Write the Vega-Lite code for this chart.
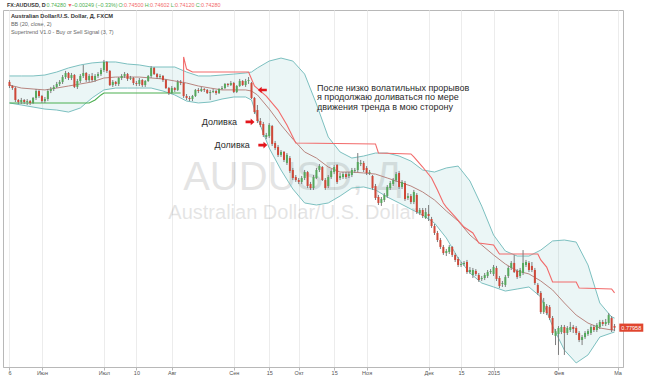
{
  "$schema": "https://vega.github.io/schema/vega-lite/v6.json",
  "width": 620,
  "height": 357,
  "autosize": {"type": "none"},
  "padding": {"left": 3, "top": 10, "right": 27, "bottom": 9},
  "background": "#ffffff",
  "config": {
    "view": {"stroke": "#b8b8b8", "strokeWidth": 1},
    "font": "Liberation Sans",
    "text": {"font": "Liberation Sans", "baseline": "middle", "align": "left"}
  },
  "datasets": {
    "candles": [
      {"i":0,"o":0.9361,"h":0.9373,"l":0.9322,"c":0.9335},
      {"i":1,"o":0.9335,"h":0.9341,"l":0.9310,"c":0.9322},
      {"i":2,"o":0.9322,"h":0.9329,"l":0.9233,"c":0.9246},
      {"i":3,"o":0.9246,"h":0.9252,"l":0.9220,"c":0.9233},
      {"i":4,"o":0.9233,"h":0.9259,"l":0.9220,"c":0.9246},
      {"i":5,"o":0.9246,"h":0.9252,"l":0.9220,"c":0.9233},
      {"i":6,"o":0.9233,"h":0.9252,"l":0.9214,"c":0.9239},
      {"i":7,"o":0.9239,"h":0.9246,"l":0.9214,"c":0.9227},
      {"i":8,"o":0.9227,"h":0.9265,"l":0.9220,"c":0.9259},
      {"i":9,"o":0.9259,"h":0.9316,"l":0.9246,"c":0.9303},
      {"i":10,"o":0.9303,"h":0.9310,"l":0.9259,"c":0.9271},
      {"i":11,"o":0.9271,"h":0.9278,"l":0.9227,"c":0.9239},
      {"i":12,"o":0.9239,"h":0.9265,"l":0.9227,"c":0.9252},
      {"i":13,"o":0.9252,"h":0.9316,"l":0.9239,"c":0.9303},
      {"i":14,"o":0.9303,"h":0.9329,"l":0.9290,"c":0.9316},
      {"i":15,"o":0.9316,"h":0.9341,"l":0.9303,"c":0.9329},
      {"i":16,"o":0.9329,"h":0.9361,"l":0.9322,"c":0.9348},
      {"i":17,"o":0.9348,"h":0.9373,"l":0.9335,"c":0.9361},
      {"i":18,"o":0.9361,"h":0.9405,"l":0.9348,"c":0.9392},
      {"i":19,"o":0.9392,"h":0.9431,"l":0.9380,"c":0.9418},
      {"i":20,"o":0.9418,"h":0.9424,"l":0.9373,"c":0.9386},
      {"i":21,"o":0.9386,"h":0.9418,"l":0.9373,"c":0.9405},
      {"i":22,"o":0.9405,"h":0.9411,"l":0.9322,"c":0.9329},
      {"i":23,"o":0.9329,"h":0.9380,"l":0.9316,"c":0.9367},
      {"i":24,"o":0.9367,"h":0.9411,"l":0.9354,"c":0.9399},
      {"i":25,"o":0.9399,"h":0.9469,"l":0.9386,"c":0.9418},
      {"i":26,"o":0.9418,"h":0.9424,"l":0.9361,"c":0.9373},
      {"i":27,"o":0.9373,"h":0.9411,"l":0.9361,"c":0.9399},
      {"i":28,"o":0.9399,"h":0.9418,"l":0.9361,"c":0.9373},
      {"i":29,"o":0.9373,"h":0.9411,"l":0.9361,"c":0.9399},
      {"i":30,"o":0.9399,"h":0.9424,"l":0.9386,"c":0.9411},
      {"i":31,"o":0.9411,"h":0.9450,"l":0.9399,"c":0.9437},
      {"i":32,"o":0.9437,"h":0.9501,"l":0.9424,"c":0.9488},
      {"i":33,"o":0.9488,"h":0.9494,"l":0.9418,"c":0.9431},
      {"i":34,"o":0.9431,"h":0.9437,"l":0.9335,"c":0.9341},
      {"i":35,"o":0.9341,"h":0.9373,"l":0.9329,"c":0.9361},
      {"i":36,"o":0.9361,"h":0.9367,"l":0.9335,"c":0.9348},
      {"i":37,"o":0.9348,"h":0.9392,"l":0.9335,"c":0.9386},
      {"i":38,"o":0.9386,"h":0.9411,"l":0.9373,"c":0.9399},
      {"i":39,"o":0.9399,"h":0.9424,"l":0.9386,"c":0.9411},
      {"i":40,"o":0.9411,"h":0.9418,"l":0.9367,"c":0.9380},
      {"i":41,"o":0.9380,"h":0.9399,"l":0.9373,"c":0.9386},
      {"i":42,"o":0.9386,"h":0.9392,"l":0.9341,"c":0.9354},
      {"i":43,"o":0.9354,"h":0.9367,"l":0.9335,"c":0.9348},
      {"i":44,"o":0.9348,"h":0.9386,"l":0.9335,"c":0.9373},
      {"i":45,"o":0.9373,"h":0.9380,"l":0.9329,"c":0.9341},
      {"i":46,"o":0.9341,"h":0.9373,"l":0.9329,"c":0.9367},
      {"i":47,"o":0.9367,"h":0.9405,"l":0.9361,"c":0.9399},
      {"i":48,"o":0.9399,"h":0.9462,"l":0.9386,"c":0.9450},
      {"i":49,"o":0.9450,"h":0.9456,"l":0.9405,"c":0.9411},
      {"i":50,"o":0.9411,"h":0.9418,"l":0.9380,"c":0.9392},
      {"i":51,"o":0.9392,"h":0.9411,"l":0.9380,"c":0.9399},
      {"i":52,"o":0.9399,"h":0.9405,"l":0.9361,"c":0.9373},
      {"i":53,"o":0.9373,"h":0.9380,"l":0.9316,"c":0.9322},
      {"i":54,"o":0.9322,"h":0.9329,"l":0.9278,"c":0.9290},
      {"i":55,"o":0.9290,"h":0.9335,"l":0.9284,"c":0.9322},
      {"i":56,"o":0.9322,"h":0.9329,"l":0.9297,"c":0.9310},
      {"i":57,"o":0.9310,"h":0.9373,"l":0.9303,"c":0.9361},
      {"i":58,"o":0.9361,"h":0.9373,"l":0.9341,"c":0.9354},
      {"i":59,"o":0.9354,"h":0.9361,"l":0.9259,"c":0.9271},
      {"i":60,"o":0.9271,"h":0.9284,"l":0.9246,"c":0.9259},
      {"i":61,"o":0.9259,"h":0.9271,"l":0.9239,"c":0.9252},
      {"i":62,"o":0.9252,"h":0.9278,"l":0.9239,"c":0.9271},
      {"i":63,"o":0.9271,"h":0.9316,"l":0.9265,"c":0.9310},
      {"i":64,"o":0.9310,"h":0.9322,"l":0.9290,"c":0.9303},
      {"i":65,"o":0.9303,"h":0.9329,"l":0.9297,"c":0.9316},
      {"i":66,"o":0.9316,"h":0.9322,"l":0.9297,"c":0.9310},
      {"i":67,"o":0.9310,"h":0.9316,"l":0.9284,"c":0.9290},
      {"i":68,"o":0.9290,"h":0.9310,"l":0.9246,"c":0.9297},
      {"i":69,"o":0.9297,"h":0.9316,"l":0.9290,"c":0.9303},
      {"i":70,"o":0.9303,"h":0.9310,"l":0.9278,"c":0.9290},
      {"i":71,"o":0.9290,"h":0.9322,"l":0.9284,"c":0.9316},
      {"i":72,"o":0.9316,"h":0.9335,"l":0.9310,"c":0.9322},
      {"i":73,"o":0.9322,"h":0.9354,"l":0.9316,"c":0.9348},
      {"i":74,"o":0.9348,"h":0.9354,"l":0.9329,"c":0.9341},
      {"i":75,"o":0.9341,"h":0.9367,"l":0.9335,"c":0.9354},
      {"i":76,"o":0.9354,"h":0.9361,"l":0.9290,"c":0.9297},
      {"i":77,"o":0.9297,"h":0.9341,"l":0.9290,"c":0.9335},
      {"i":78,"o":0.9335,"h":0.9380,"l":0.9329,"c":0.9367},
      {"i":79,"o":0.9367,"h":0.9373,"l":0.9335,"c":0.9341},
      {"i":80,"o":0.9341,"h":0.9380,"l":0.9329,"c":0.9367},
      {"i":81,"o":0.9367,"h":0.9392,"l":0.9348,"c":0.9373},
      {"i":82,"o":0.9354,"h":0.9361,"l":0.9252,"c":0.9259},
      {"i":83,"o":0.9259,"h":0.9265,"l":0.9157,"c":0.9169},
      {"i":84,"o":0.9182,"h":0.9214,"l":0.9099,"c":0.9112},
      {"i":85,"o":0.9112,"h":0.9131,"l":0.9074,"c":0.9087},
      {"i":86,"o":0.9093,"h":0.9106,"l":0.9010,"c":0.9023},
      {"i":87,"o":0.9010,"h":0.9036,"l":0.8997,"c":0.9023},
      {"i":88,"o":0.9016,"h":0.9099,"l":0.9004,"c":0.9087},
      {"i":89,"o":0.9080,"h":0.9087,"l":0.8953,"c":0.8966},
      {"i":90,"o":0.8972,"h":0.8985,"l":0.8927,"c":0.8940},
      {"i":91,"o":0.8946,"h":0.8959,"l":0.8883,"c":0.8896},
      {"i":92,"o":0.8896,"h":0.8927,"l":0.8883,"c":0.8915},
      {"i":93,"o":0.8915,"h":0.8921,"l":0.8851,"c":0.8864},
      {"i":94,"o":0.8845,"h":0.8908,"l":0.8832,"c":0.8896},
      {"i":95,"o":0.8876,"h":0.8889,"l":0.8781,"c":0.8794},
      {"i":96,"o":0.8800,"h":0.8813,"l":0.8736,"c":0.8749},
      {"i":97,"o":0.8755,"h":0.8768,"l":0.8724,"c":0.8736},
      {"i":98,"o":0.8736,"h":0.8749,"l":0.8711,"c":0.8724},
      {"i":99,"o":0.8724,"h":0.8762,"l":0.8711,"c":0.8749},
      {"i":100,"o":0.8749,"h":0.8800,"l":0.8736,"c":0.8787},
      {"i":101,"o":0.8787,"h":0.8794,"l":0.8685,"c":0.8698},
      {"i":102,"o":0.8711,"h":0.8724,"l":0.8673,"c":0.8685},
      {"i":103,"o":0.8685,"h":0.8768,"l":0.8673,"c":0.8755},
      {"i":104,"o":0.8749,"h":0.8813,"l":0.8743,"c":0.8800},
      {"i":105,"o":0.8800,"h":0.8838,"l":0.8787,"c":0.8825},
      {"i":106,"o":0.8819,"h":0.8825,"l":0.8730,"c":0.8736},
      {"i":107,"o":0.8736,"h":0.8749,"l":0.8673,"c":0.8685},
      {"i":108,"o":0.8698,"h":0.8768,"l":0.8685,"c":0.8755},
      {"i":109,"o":0.8755,"h":0.8806,"l":0.8743,"c":0.8794},
      {"i":110,"o":0.8787,"h":0.8832,"l":0.8774,"c":0.8819},
      {"i":111,"o":0.8832,"h":0.8838,"l":0.8711,"c":0.8724},
      {"i":112,"o":0.8749,"h":0.8781,"l":0.8736,"c":0.8762},
      {"i":113,"o":0.8755,"h":0.8787,"l":0.8743,"c":0.8774},
      {"i":114,"o":0.8774,"h":0.8787,"l":0.8743,"c":0.8755},
      {"i":115,"o":0.8762,"h":0.8787,"l":0.8749,"c":0.8774},
      {"i":116,"o":0.8768,"h":0.8813,"l":0.8755,"c":0.8800},
      {"i":117,"o":0.8794,"h":0.8813,"l":0.8781,"c":0.8800},
      {"i":118,"o":0.8800,"h":0.8908,"l":0.8787,"c":0.8851},
      {"i":119,"o":0.8838,"h":0.8864,"l":0.8825,"c":0.8845},
      {"i":120,"o":0.8845,"h":0.8857,"l":0.8787,"c":0.8800},
      {"i":121,"o":0.8813,"h":0.8825,"l":0.8768,"c":0.8781},
      {"i":122,"o":0.8781,"h":0.8800,"l":0.8768,"c":0.8787},
      {"i":123,"o":0.8762,"h":0.8768,"l":0.8673,"c":0.8685},
      {"i":124,"o":0.8698,"h":0.8711,"l":0.8609,"c":0.8622},
      {"i":125,"o":0.8628,"h":0.8641,"l":0.8577,"c":0.8590},
      {"i":126,"o":0.8590,"h":0.8628,"l":0.8571,"c":0.8615},
      {"i":127,"o":0.8609,"h":0.8653,"l":0.8596,"c":0.8641},
      {"i":128,"o":0.8634,"h":0.8704,"l":0.8622,"c":0.8692},
      {"i":129,"o":0.8685,"h":0.8730,"l":0.8673,"c":0.8717},
      {"i":130,"o":0.8711,"h":0.8749,"l":0.8698,"c":0.8736},
      {"i":131,"o":0.8736,"h":0.8787,"l":0.8724,"c":0.8774},
      {"i":132,"o":0.8781,"h":0.8794,"l":0.8679,"c":0.8692},
      {"i":133,"o":0.8692,"h":0.8736,"l":0.8679,"c":0.8724},
      {"i":134,"o":0.8717,"h":0.8730,"l":0.8603,"c":0.8615},
      {"i":135,"o":0.8622,"h":0.8653,"l":0.8609,"c":0.8634},
      {"i":136,"o":0.8634,"h":0.8647,"l":0.8583,"c":0.8596},
      {"i":137,"o":0.8596,"h":0.8673,"l":0.8583,"c":0.8660},
      {"i":138,"o":0.8641,"h":0.8653,"l":0.8520,"c":0.8532},
      {"i":139,"o":0.8526,"h":0.8558,"l":0.8513,"c":0.8545},
      {"i":140,"o":0.8545,"h":0.8558,"l":0.8494,"c":0.8507},
      {"i":141,"o":0.8494,"h":0.8558,"l":0.8488,"c":0.8532},
      {"i":142,"o":0.8520,"h":0.8577,"l":0.8475,"c":0.8507},
      {"i":143,"o":0.8488,"h":0.8501,"l":0.8431,"c":0.8443},
      {"i":144,"o":0.8443,"h":0.8456,"l":0.8386,"c":0.8399},
      {"i":145,"o":0.8399,"h":0.8412,"l":0.8341,"c":0.8354},
      {"i":146,"o":0.8354,"h":0.8367,"l":0.8297,"c":0.8310},
      {"i":147,"o":0.8310,"h":0.8322,"l":0.8259,"c":0.8271},
      {"i":148,"o":0.8271,"h":0.8297,"l":0.8252,"c":0.8284},
      {"i":149,"o":0.8278,"h":0.8322,"l":0.8265,"c":0.8310},
      {"i":150,"o":0.8310,"h":0.8316,"l":0.8246,"c":0.8259},
      {"i":151,"o":0.8259,"h":0.8271,"l":0.8214,"c":0.8227},
      {"i":152,"o":0.8233,"h":0.8246,"l":0.8182,"c":0.8195},
      {"i":153,"o":0.8195,"h":0.8214,"l":0.8182,"c":0.8201},
      {"i":154,"o":0.8201,"h":0.8220,"l":0.8189,"c":0.8208},
      {"i":155,"o":0.8214,"h":0.8227,"l":0.8138,"c":0.8150},
      {"i":156,"o":0.8150,"h":0.8182,"l":0.8138,"c":0.8163},
      {"i":157,"o":0.8131,"h":0.8176,"l":0.8112,"c":0.8163},
      {"i":158,"o":0.8157,"h":0.8169,"l":0.8125,"c":0.8138},
      {"i":159,"o":0.8131,"h":0.8144,"l":0.8087,"c":0.8099},
      {"i":160,"o":0.8106,"h":0.8125,"l":0.8093,"c":0.8112},
      {"i":161,"o":0.8112,"h":0.8144,"l":0.8099,"c":0.8131},
      {"i":162,"o":0.8125,"h":0.8163,"l":0.8112,"c":0.8150},
      {"i":163,"o":0.8150,"h":0.8169,"l":0.8138,"c":0.8157},
      {"i":164,"o":0.8138,"h":0.8195,"l":0.8125,"c":0.8182},
      {"i":165,"o":0.8176,"h":0.8189,"l":0.8093,"c":0.8106},
      {"i":166,"o":0.8112,"h":0.8125,"l":0.8048,"c":0.8061},
      {"i":167,"o":0.8074,"h":0.8093,"l":0.8055,"c":0.8080},
      {"i":168,"o":0.8068,"h":0.8131,"l":0.8055,"c":0.8118},
      {"i":169,"o":0.8125,"h":0.8189,"l":0.8112,"c":0.8176},
      {"i":170,"o":0.8176,"h":0.8220,"l":0.8163,"c":0.8208},
      {"i":171,"o":0.8208,"h":0.8259,"l":0.8144,"c":0.8150},
      {"i":172,"o":0.8157,"h":0.8169,"l":0.8106,"c":0.8118},
      {"i":173,"o":0.8125,"h":0.8176,"l":0.8112,"c":0.8163},
      {"i":174,"o":0.8144,"h":0.8290,"l":0.8131,"c":0.8208},
      {"i":175,"o":0.8195,"h":0.8227,"l":0.8182,"c":0.8214},
      {"i":176,"o":0.8208,"h":0.8220,"l":0.8150,"c":0.8163},
      {"i":177,"o":0.8189,"h":0.8214,"l":0.8150,"c":0.8163},
      {"i":178,"o":0.8163,"h":0.8176,"l":0.8068,"c":0.8080},
      {"i":179,"o":0.8068,"h":0.8080,"l":0.8004,"c":0.8017},
      {"i":180,"o":0.8017,"h":0.8029,"l":0.7883,"c":0.7895},
      {"i":181,"o":0.7895,"h":0.7985,"l":0.7883,"c":0.7959},
      {"i":182,"o":0.7934,"h":0.7946,"l":0.7876,"c":0.7889},
      {"i":183,"o":0.7927,"h":0.7940,"l":0.7845,"c":0.7857},
      {"i":184,"o":0.7857,"h":0.7870,"l":0.7749,"c":0.7762},
      {"i":185,"o":0.7743,"h":0.7787,"l":0.7685,"c":0.7774},
      {"i":186,"o":0.7755,"h":0.7806,"l":0.7622,"c":0.7794},
      {"i":187,"o":0.7768,"h":0.7813,"l":0.7755,"c":0.7800},
      {"i":188,"o":0.7800,"h":0.7813,"l":0.7622,"c":0.7762},
      {"i":189,"o":0.7762,"h":0.7806,"l":0.7749,"c":0.7794},
      {"i":190,"o":0.7781,"h":0.7832,"l":0.7768,"c":0.7800},
      {"i":191,"o":0.7800,"h":0.7813,"l":0.7762,"c":0.7787},
      {"i":192,"o":0.7794,"h":0.7806,"l":0.7749,"c":0.7762},
      {"i":193,"o":0.7762,"h":0.7774,"l":0.7704,"c":0.7717},
      {"i":194,"o":0.7717,"h":0.7749,"l":0.7685,"c":0.7736},
      {"i":195,"o":0.7736,"h":0.7774,"l":0.7724,"c":0.7762},
      {"i":196,"o":0.7755,"h":0.7787,"l":0.7743,"c":0.7774},
      {"i":197,"o":0.7762,"h":0.7813,"l":0.7749,"c":0.7800},
      {"i":198,"o":0.7800,"h":0.7813,"l":0.7768,"c":0.7781},
      {"i":199,"o":0.7781,"h":0.7825,"l":0.7768,"c":0.7813},
      {"i":200,"o":0.7800,"h":0.7845,"l":0.7787,"c":0.7832},
      {"i":201,"o":0.7832,"h":0.7845,"l":0.7806,"c":0.7819},
      {"i":202,"o":0.7819,"h":0.7851,"l":0.7806,"c":0.7832},
      {"i":203,"o":0.7825,"h":0.7889,"l":0.7813,"c":0.7876},
      {"i":204,"o":0.7857,"h":0.7870,"l":0.7768,"c":0.7781},
      {"i":205,"o":0.7806,"h":0.7819,"l":0.7774,"c":0.77958}
    ],
    "bands": [
      {"i":0,"up":0.9399,"mid":0.9341,"lo":0.9227},
      {"i":4,"up":0.9399,"mid":0.9322,"lo":0.9214},
      {"i":8,"up":0.9399,"mid":0.9316,"lo":0.9201},
      {"i":12,"up":0.9405,"mid":0.9310,"lo":0.9188},
      {"i":16,"up":0.9424,"mid":0.9322,"lo":0.9182},
      {"i":20,"up":0.9450,"mid":0.9335,"lo":0.9169},
      {"i":24,"up":0.9469,"mid":0.9348,"lo":0.9195},
      {"i":28,"up":0.9482,"mid":0.9361,"lo":0.9259},
      {"i":32,"up":0.9488,"mid":0.9386,"lo":0.9310},
      {"i":36,"up":0.9488,"mid":0.9392,"lo":0.9322},
      {"i":40,"up":0.9475,"mid":0.9392,"lo":0.9322},
      {"i":44,"up":0.9469,"mid":0.9392,"lo":0.9322},
      {"i":48,"up":0.9456,"mid":0.9386,"lo":0.9322},
      {"i":52,"up":0.9456,"mid":0.9380,"lo":0.9303},
      {"i":56,"up":0.9456,"mid":0.9367,"lo":0.9278},
      {"i":60,"up":0.9424,"mid":0.9354,"lo":0.9239},
      {"i":64,"up":0.9399,"mid":0.9335,"lo":0.9227},
      {"i":68,"up":0.9399,"mid":0.9322,"lo":0.9233},
      {"i":72,"up":0.9405,"mid":0.9310,"lo":0.9252},
      {"i":76,"up":0.9411,"mid":0.9310,"lo":0.9265},
      {"i":80,"up":0.9418,"mid":0.9310,"lo":0.9265},
      {"i":82,"up":0.9424,"mid":0.9303,"lo":0.9246},
      {"i":84,"up":0.9450,"mid":0.9278,"lo":0.9131},
      {"i":88,"up":0.9494,"mid":0.9189,"lo":0.8940},
      {"i":92,"up":0.9513,"mid":0.9087,"lo":0.8800},
      {"i":96,"up":0.9494,"mid":0.8997,"lo":0.8679},
      {"i":100,"up":0.9411,"mid":0.8915,"lo":0.8590},
      {"i":104,"up":0.9220,"mid":0.8876,"lo":0.8577},
      {"i":108,"up":0.9010,"mid":0.8819,"lo":0.8590},
      {"i":112,"up":0.8915,"mid":0.8787,"lo":0.8634},
      {"i":116,"up":0.8876,"mid":0.8787,"lo":0.8685},
      {"i":120,"up":0.8889,"mid":0.8781,"lo":0.8692},
      {"i":124,"up":0.8908,"mid":0.8774,"lo":0.8673},
      {"i":128,"up":0.8908,"mid":0.8749,"lo":0.8628},
      {"i":132,"up":0.8889,"mid":0.8724,"lo":0.8590},
      {"i":136,"up":0.8857,"mid":0.8698,"lo":0.8551},
      {"i":140,"up":0.8800,"mid":0.8660,"lo":0.8513},
      {"i":144,"up":0.8787,"mid":0.8609,"lo":0.8462},
      {"i":148,"up":0.8813,"mid":0.8539,"lo":0.8367},
      {"i":152,"up":0.8825,"mid":0.8475,"lo":0.8239},
      {"i":156,"up":0.8730,"mid":0.8386,"lo":0.8144},
      {"i":160,"up":0.8570,"mid":0.8322,"lo":0.8080},
      {"i":164,"up":0.8386,"mid":0.8259,"lo":0.8055},
      {"i":168,"up":0.8284,"mid":0.8201,"lo":0.8029},
      {"i":172,"up":0.8252,"mid":0.8157,"lo":0.8042},
      {"i":176,"up":0.8252,"mid":0.8138,"lo":0.8055},
      {"i":180,"up":0.8290,"mid":0.8093,"lo":0.7991},
      {"i":184,"up":0.8348,"mid":0.8036,"lo":0.7806},
      {"i":188,"up":0.8354,"mid":0.7953,"lo":0.7653},
      {"i":192,"up":0.8341,"mid":0.7876,"lo":0.7571},
      {"i":196,"up":0.8195,"mid":0.7825,"lo":0.7622},
      {"i":200,"up":0.7953,"mid":0.7794,"lo":0.7736},
      {"i":204,"up":0.7864,"mid":0.7781,"lo":0.7762},
      {"i":205,"up":0.7857,"mid":0.7781,"lo":0.7768}
    ],
    "supertrend": [
      {"k":0,"i":0,"v":0.9227,"trend":"up"},
      {"k":1,"i":27,"v":0.9227,"trend":"up"},
      {"k":2,"i":29,"v":0.9246,"trend":"up"},
      {"k":3,"i":31,"v":0.9278,"trend":"up"},
      {"k":4,"i":32,"v":0.9290,"trend":"up"},
      {"k":5,"i":58,"v":0.9290,"trend":"up"},
      {"k":10,"i":59,"v":0.9341,"trend":"down"},
      {"k":11,"i":59,"v":0.9520,"trend":"down"},
      {"k":12,"i":60,"v":0.9443,"trend":"down"},
      {"k":13,"i":62,"v":0.9424,"trend":"down"},
      {"k":14,"i":81,"v":0.9424,"trend":"down"},
      {"k":15,"i":83,"v":0.9335,"trend":"down"},
      {"k":16,"i":87,"v":0.9271,"trend":"down"},
      {"k":17,"i":91,"v":0.9182,"trend":"down"},
      {"k":18,"i":94,"v":0.9087,"trend":"down"},
      {"k":19,"i":96,"v":0.9010,"trend":"down"},
      {"k":20,"i":97,"v":0.8972,"trend":"down"},
      {"k":21,"i":124,"v":0.8966,"trend":"down"},
      {"k":22,"i":125,"v":0.8908,"trend":"down"},
      {"k":23,"i":136,"v":0.8902,"trend":"down"},
      {"k":24,"i":137,"v":0.8883,"trend":"down"},
      {"k":25,"i":140,"v":0.8819,"trend":"down"},
      {"k":26,"i":143,"v":0.8749,"trend":"down"},
      {"k":27,"i":145,"v":0.8673,"trend":"down"},
      {"k":28,"i":147,"v":0.8590,"trend":"down"},
      {"k":29,"i":148,"v":0.8564,"trend":"down"},
      {"k":30,"i":151,"v":0.8501,"trend":"down"},
      {"k":31,"i":154,"v":0.8437,"trend":"down"},
      {"k":32,"i":157,"v":0.8399,"trend":"down"},
      {"k":33,"i":159,"v":0.8335,"trend":"down"},
      {"k":34,"i":164,"v":0.8322,"trend":"down"},
      {"k":35,"i":166,"v":0.8265,"trend":"down"},
      {"k":36,"i":179,"v":0.8265,"trend":"down"},
      {"k":37,"i":180,"v":0.8227,"trend":"down"},
      {"k":38,"i":182,"v":0.8182,"trend":"down"},
      {"k":39,"i":184,"v":0.8087,"trend":"down"},
      {"k":40,"i":192,"v":0.8087,"trend":"down"},
      {"k":41,"i":193,"v":0.8048,"trend":"down"},
      {"k":42,"i":204,"v":0.8042,"trend":"down"},
      {"k":43,"i":205,"v":0.8017,"trend":"down"}
    ],
    "notes": [
      {"kind":"head-title","i":-0.83,"v":0.98541,"t":"FX:AUDUSD, D"},
      {"kind":"head","tone":"plain","i":12.57,"v":0.98541,"t":"0.74280"},
      {"kind":"head","tone":"signal","i":19.57,"v":0.98541,"t":"▼"},
      {"kind":"head","tone":"plain","i":21.0,"v":0.98541,"t":"−0.00249 (−0.33%)"},
      {"kind":"head","tone":"plain","i":36.9,"v":0.98541,"t":"O:"},
      {"kind":"head","tone":"signal","i":38.8,"v":0.98541,"t":"0.74500"},
      {"kind":"head","tone":"plain","i":45.8,"v":0.98541,"t":"H:"},
      {"kind":"head","tone":"signal","i":47.6,"v":0.98541,"t":"0.74602"},
      {"kind":"head","tone":"plain","i":54.6,"v":0.98541,"t":"L:"},
      {"kind":"head","tone":"signal","i":56.1,"v":0.98541,"t":"0.74120"},
      {"kind":"head","tone":"plain","i":63.1,"v":0.98541,"t":"C:"},
      {"kind":"head","tone":"signal","i":64.9,"v":0.98541,"t":"0.74280"},
      {"kind":"legend-title","i":0.5,"v":0.97840,"t":"Australian Dollar/U.S. Dollar, Д, FXCM"},
      {"kind":"legend","i":0.5,"v":0.97299,"t":"BB (20, close, 2)"},
      {"kind":"legend","i":0.5,"v":0.96790,"t":"Supertrend V1.0 - Buy or Sell Signal (3, 7)"},
      {"kind":"mark-big","i":95.8,"v":0.8749,"t":"AUDUSD, Д"},
      {"kind":"mark-small","i":96.0,"v":0.8526,"t":"Australian Dollar/U.S. Dollar"},
      {"kind":"comment","i":104.17,"v":0.93223,"t":"После низко волатильных прорывов"},
      {"kind":"comment","i":104.17,"v":0.92618,"t":"я продолжаю доливаться по мере"},
      {"kind":"comment","i":104.17,"v":0.92013,"t":"движения тренда в мою сторону"},
      {"kind":"comment","i":65.17,"v":0.9106,"t":"Доливка"},
      {"kind":"comment","i":69.5,"v":0.8959,"t":"Доливка"},
      {"kind":"arrow-right","i":81.5,"v":0.9106,"t":""},
      {"kind":"arrow-right","i":85.83,"v":0.8959,"t":""},
      {"kind":"arrow-left","i":85.67,"v":0.93095,"t":""},
      {"kind":"price","i":210.67,"v":0.77958,"t":"0.77958"}
    ]
  },
  "encoding": {
    "x": {
      "field": "i",
      "type": "quantitative",
      "scale": {"domain": [-0.5, 206.1667], "nice": false, "zero": false},
      "axis": {
        "title": null,
        "values": [0, 11, 32, 43, 55, 76, 88, 98, 110, 121, 142, 153, 164, 186, 206],
        "labelExpr": "['6','Июн','Июл','10','Авг','Сен','15','Окт','15','Ноя','Дек','15','2015','Фев','Ма'][indexof([0,11,32,43,55,76,88,98,110,121,142,153,164,186,206], datum.value)]",
        "grid": true,
        "gridColor": "#ececec",
        "tickSize": 3,
        "tickColor": "#b8b8b8",
        "domainColor": "#b8b8b8",
        "labelFontSize": 5.5,
        "labelColor": "#555555",
        "labelPadding": 0,
        "labelFlush": false,
        "labelOverlap": false,
        "labelFont": "Liberation Sans"
      }
    }
  },
  "layer": [
    {
      "data": {"name": "bands"},
      "mark": {"type": "area", "color": "#3aa6a6", "opacity": 0.1},
      "encoding": {
        "y": {
          "field": "lo", "type": "quantitative",
          "scale": {"domain": [0.754522, 0.981911], "nice": false, "zero": false},
          "axis": {
            "orient": "right",
            "title": null,
            "values": [0.76,0.77,0.78,0.79,0.8,0.81,0.82,0.83,0.84,0.85,0.86,0.87,0.88,0.89,0.9,0.91,0.92,0.93,0.94,0.95,0.96,0.97,0.98],
            "format": ".5f",
            "grid": true,
            "gridColor": "#ececec",
            "tickSize": 3,
            "tickColor": "#b8b8b8",
            "domainColor": "#b8b8b8",
            "labelFontSize": 5.5,
            "labelColor": "#555555",
            "labelPadding": 2,
            "labelFont": "Liberation Sans"
          }
        },
        "y2": {"field": "up"}
      }
    },
    {
      "mark": {"type": "rect", "color": "#f1f2f4"},
      "encoding": {
        "x": {"datum": -1.5},
        "x2": {"datum": 216},
        "y": {"datum": 0.98195, "type": "quantitative", "scale": {"domain": [0.754522, 0.981911], "nice": false, "zero": false}, "axis": null},
        "y2": {"datum": 0.9892}
      }
    },
    {
      "data": {"name": "notes"},
      "transform": [{"filter": "datum.kind === 'mark-big'"}],
      "mark": {"type": "text", "align": "center", "fontSize": 40, "color": "#000000", "opacity": 0.1},
      "encoding": {
        "y": {"field": "v", "type": "quantitative", "scale": {"domain": [0.754522, 0.981911], "nice": false, "zero": false}, "axis": null},
        "text": {"field": "t"}
      }
    },
    {
      "data": {"name": "notes"},
      "transform": [{"filter": "datum.kind === 'mark-small'"}],
      "mark": {"type": "text", "align": "center", "fontSize": 20, "color": "#000000", "opacity": 0.1},
      "encoding": {
        "y": {"field": "v", "type": "quantitative", "scale": {"domain": [0.754522, 0.981911], "nice": false, "zero": false}, "axis": null},
        "text": {"field": "t"}
      }
    },
    {
      "data": {"name": "bands"},
      "mark": {"type": "line", "color": "#7cc0c0", "strokeWidth": 1},
      "encoding": {
        "y": {"field": "up", "type": "quantitative", "scale": {"domain": [0.754522, 0.981911], "nice": false, "zero": false}, "axis": null}
      }
    },
    {
      "data": {"name": "bands"},
      "mark": {"type": "line", "color": "#7cc0c0", "strokeWidth": 1},
      "encoding": {
        "y": {"field": "lo", "type": "quantitative", "scale": {"domain": [0.754522, 0.981911], "nice": false, "zero": false}, "axis": null}
      }
    },
    {
      "data": {"name": "bands"},
      "mark": {"type": "line", "color": "#b8857f", "strokeWidth": 1},
      "encoding": {
        "y": {"field": "mid", "type": "quantitative", "scale": {"domain": [0.754522, 0.981911], "nice": false, "zero": false}, "axis": null}
      }
    },
    {
      "data": {"name": "supertrend"},
      "mark": {"type": "line", "strokeWidth": 1.1},
      "encoding": {
        "y": {"field": "v", "type": "quantitative", "scale": {"domain": [0.754522, 0.981911], "nice": false, "zero": false}, "axis": null},
        "color": {"field": "trend", "type": "nominal", "scale": {"domain": ["up", "down"], "range": ["#4caf50", "#f26a6a"]}, "legend": null},
        "order": {"field": "k", "type": "quantitative"}
      }
    },
    {
      "data": {"name": "candles"},
      "mark": {"type": "rule", "strokeWidth": 1, "color": "#7d7d7d"},
      "encoding": {
        "y": {"field": "l", "type": "quantitative", "scale": {"domain": [0.754522, 0.981911], "nice": false, "zero": false}, "axis": null},
        "y2": {"field": "h"}
      }
    },
    {
      "data": {"name": "candles"},
      "mark": {"type": "bar", "width": 2},
      "encoding": {
        "y": {"field": "o", "type": "quantitative", "scale": {"domain": [0.754522, 0.981911], "nice": false, "zero": false}, "axis": null},
        "y2": {"field": "c"},
        "color": {"condition": {"test": "datum.c >= datum.o", "value": "#56a85c"}, "value": "#cf4838"}
      }
    },
    {
      "data": {"name": "notes"},
      "transform": [{"filter": "datum.kind === 'comment'"}],
      "mark": {"type": "text", "fontSize": 9, "color": "#2b2b2b"},
      "encoding": {
        "y": {"field": "v", "type": "quantitative", "scale": {"domain": [0.754522, 0.981911], "nice": false, "zero": false}, "axis": null},
        "text": {"field": "t"}
      }
    },
    {
      "data": {"name": "notes"},
      "transform": [{"filter": "datum.kind === 'arrow-right'"}],
      "mark": {"type": "point", "filled": true, "opacity": 1, "color": "#e3161c", "size": 80,
               "shape": "M -1 -0.3 L 0.15 -0.3 L 0.15 -0.75 L 1 0 L 0.15 0.75 L 0.15 0.3 L -1 0.3 Z"},
      "encoding": {
        "y": {"field": "v", "type": "quantitative", "scale": {"domain": [0.754522, 0.981911], "nice": false, "zero": false}, "axis": null}
      }
    },
    {
      "data": {"name": "notes"},
      "transform": [{"filter": "datum.kind === 'arrow-left'"}],
      "mark": {"type": "point", "filled": true, "opacity": 1, "color": "#e3161c", "size": 80,
               "shape": "M 1 -0.3 L -0.15 -0.3 L -0.15 -0.75 L -1 0 L -0.15 0.75 L -0.15 0.3 L 1 0.3 Z"},
      "encoding": {
        "y": {"field": "v", "type": "quantitative", "scale": {"domain": [0.754522, 0.981911], "nice": false, "zero": false}, "axis": null}
      }
    },
    {
      "data": {"name": "notes"},
      "transform": [{"filter": "datum.kind === 'legend-title'"}],
      "mark": {"type": "text", "fontSize": 5.7, "fontWeight": "bold", "color": "#333333"},
      "encoding": {
        "y": {"field": "v", "type": "quantitative", "scale": {"domain": [0.754522, 0.981911], "nice": false, "zero": false}, "axis": null},
        "text": {"field": "t"}
      }
    },
    {
      "data": {"name": "notes"},
      "transform": [{"filter": "datum.kind === 'legend'"}],
      "mark": {"type": "text", "fontSize": 5.5, "color": "#666666"},
      "encoding": {
        "y": {"field": "v", "type": "quantitative", "scale": {"domain": [0.754522, 0.981911], "nice": false, "zero": false}, "axis": null},
        "text": {"field": "t"}
      }
    },
    {
      "data": {"name": "notes"},
      "transform": [{"filter": "datum.kind === 'head-title'"}],
      "mark": {"type": "text", "fontSize": 5.4, "fontWeight": "bold", "color": "#333333"},
      "encoding": {
        "y": {"field": "v", "type": "quantitative", "scale": {"domain": [0.754522, 0.981911], "nice": false, "zero": false}, "axis": null},
        "text": {"field": "t"}
      }
    },
    {
      "data": {"name": "notes"},
      "transform": [{"filter": "datum.kind === 'head'"}],
      "mark": {"type": "text", "fontSize": 5.4},
      "encoding": {
        "y": {"field": "v", "type": "quantitative", "scale": {"domain": [0.754522, 0.981911], "nice": false, "zero": false}, "axis": null},
        "text": {"field": "t"},
        "color": {"field": "tone", "type": "nominal", "scale": {"domain": ["plain", "signal"], "range": ["#555555", "#e0342e"]}, "legend": null}
      }
    },
    {
      "data": {"name": "notes"},
      "transform": [{"filter": "datum.kind === 'price'"}],
      "mark": {"type": "point", "filled": true, "opacity": 1, "color": "#e0452f", "size": 576,
               "shape": "M -1 -0.34 L 1 -0.34 L 1 0.34 L -1 0.34 Z"},
      "encoding": {
        "y": {"field": "v", "type": "quantitative", "scale": {"domain": [0.754522, 0.981911], "nice": false, "zero": false}, "axis": null}
      }
    },
    {
      "data": {"name": "notes"},
      "transform": [{"filter": "datum.kind === 'price'"}],
      "mark": {"type": "text", "align": "center", "fontSize": 5.5, "color": "#ffffff"},
      "encoding": {
        "y": {"field": "v", "type": "quantitative", "scale": {"domain": [0.754522, 0.981911], "nice": false, "zero": false}, "axis": null},
        "text": {"field": "t"}
      }
    }
  ]
}
